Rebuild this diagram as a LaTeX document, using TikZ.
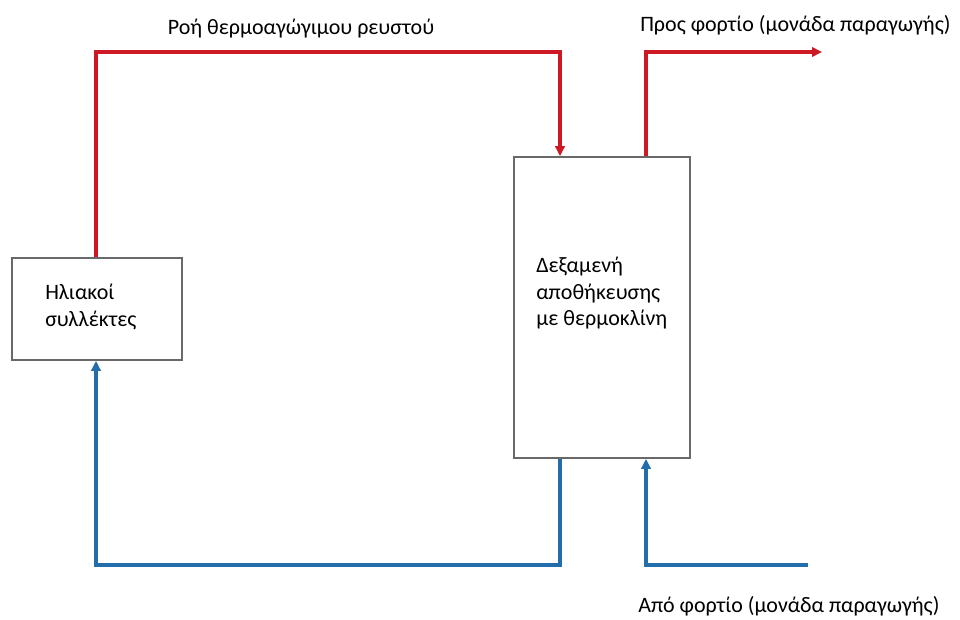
\documentclass[tikz,border=0pt]{standalone}
\usepackage{fontspec}
\setmainfont{Carlito}
\usetikzlibrary{arrows.meta}
\definecolor{hot}{RGB}{205,25,35}
\definecolor{cold}{RGB}{35,110,170}
\definecolor{frame}{RGB}{105,105,105}
\begin{document}
\begin{tikzpicture}[x=0.75pt,y=-0.75pt,
  unit/.style={draw=frame,line width=1.2pt,fill=white,inner sep=0pt},
  label/.style={font=\fontsize{16.5}{19.8}\selectfont,align=left,inner sep=0pt},
  hotline/.style={draw=hot,line width=2.5pt},
  coldline/.style={draw=cold,line width=2.5pt},
  tip/.style={-{Triangle[length=7.5pt,width=7pt]}}]
\useasboundingbox (0,0) rectangle (960,619);
% collectors and storage tank
\node[unit,minimum width=127.5pt,minimum height=76.5pt] (coll) at (97,309) {};
\node[unit,minimum width=132pt,minimum height=225.75pt] (tank) at (602,307.5) {};
\node[label,anchor=north west] at (45,284) {Ηλιακοί\\συλλέκτες};
\node[label,anchor=north west] at (536,257) {Δεξαμενή\\αποθήκευσης\\με θερμοκλίνη};
% corner points of the piping
\coordinate (c1) at (96,52);
\coordinate (c2) at (560,52);
\coordinate (c3) at (646,52);
\coordinate (out) at (822,52);
\coordinate (c4) at (560,565);
\coordinate (c5) at (96,565);
\coordinate (c6) at (646,565);
\coordinate (in) at (808,565);
% hot fluid loop
\draw[hotline,tip] (coll.north -| c1) -- (c1) -- (c2) -- (tank.north -| c2);
\draw[hotline,tip] (tank.north -| c3) -- (c3) -- (out);
% cold return
\draw[coldline,tip] (tank.south -| c4) -- (c4) -- (c5) -- (coll.south -| c5);
\draw[coldline,tip] (in) -- (c6) -- (tank.south -| c6);
% labels
\node[label,anchor=base] (flow) at (301,34) {Ροή θερμοαγώγιμου ρευστού};
\node[label,anchor=base west] (to) at (640,31) {Προς φορτίο (μονάδα παραγωγής)};
\node[label,anchor=base west] (from) at (638,612) {Από φορτίο (μονάδα παραγωγής)};
\end{tikzpicture}
\end{document}
